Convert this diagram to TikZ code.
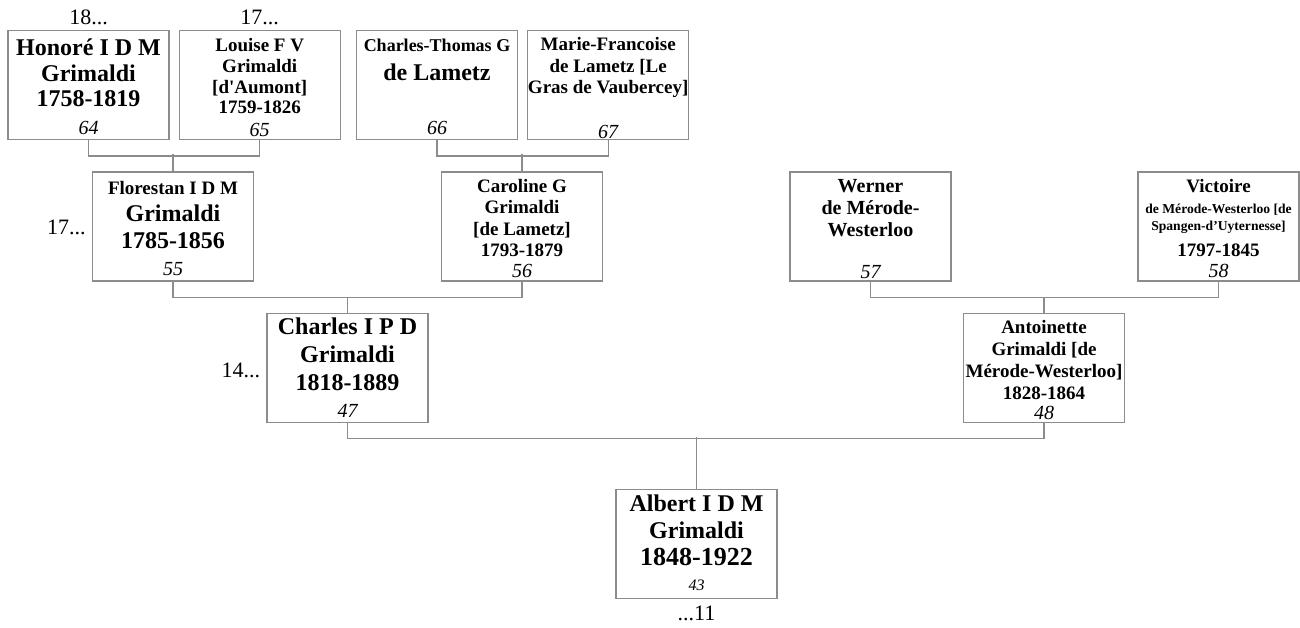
\documentclass[tikz,border=0pt]{standalone}
\usepackage{fontspec}
\setmainfont{Liberation Serif}
\usetikzlibrary{positioning}

\begin{document}
\begin{tikzpicture}
[x=1pt,y=-1pt,
person/.style={rectangle,draw=black!45,line width=1.2pt,minimum width=161pt,minimum height=109pt,inner sep=0pt},
who/.style n args={2}{anchor=base,align=center,inner sep=0pt,font=\bfseries\fontsize{#1}{#2}\selectfont},
num/.style={anchor=base,inner sep=0pt,font=\itshape\fontsize{20}{24}\selectfont},
gen/.style={anchor=base,inner sep=0pt,font=\fontsize{22}{26}\selectfont},
link/.style={draw=black!45,line width=1.2pt}]
\useasboundingbox (0,0) rectangle (1300,628);
% boxes
\node[person] (honore) at (88.5,85) {};
\node[person] (louise) [right=9pt of honore] {};
\node[person] (ctlametz) at (437,85) {};
\node[person] (mflametz) [right=9pt of ctlametz] {};
\node[person] (florestan) at (173,226.5) {};
\node[person] (caroline) at (522,226.5) {};
\node[person] (werner) at (870.5,226.5) {};
\node[person] (victoire) at (1218.5,226.5) {};
\node[person] (charles) at (347.5,368) {};
\node[person] (antoinette) at (1044,368) {};
\node[person] (albert) at (696.5,544) {};
% names (base = last line)
\node[who={24}{25.5}] (honore name) at ([yshift=-77pt]honore.north) {Honoré I D M\\Grimaldi\\1758-1819};
\node[who={19}{20.7}] (louise name) at ([yshift=-84pt]louise.north) {Louise F V\\Grimaldi\\{[d\textquotesingle Aumont]}\\1759-1826};
\node[who={18}{29}] (ctlametz name) at ([yshift=-51pt]ctlametz.north) {Charles-Thomas G\\{\fontsize{24}{29}\selectfont de Lametz}};
\node[who={19}{21.5}] (mflametz name) at ([yshift=-64pt]mflametz.north) {Marie-Francoise\\de Lametz [Le\\Gras de Vaubercey]};
\node[who={24}{27}] (florestan name) at ([yshift=-77pt]florestan.north) {{\fontsize{19}{27}\selectfont Florestan I D M}\\Grimaldi\\1785-1856};
\node[who={19}{21.3}] (caroline name) at ([yshift=-85pt]caroline.north) {Caroline G\\Grimaldi\\{[de Lametz]}\\1793-1879};
\node[who={20}{22}] (werner name) at ([yshift=-65pt]werner.north) {Werner\\de Mérode-\\Westerloo};
\node[who={13.6}{17}] (victoire name) at ([yshift=-85pt]victoire.north) {{\fontsize{19}{21}\selectfont Victoire}\\[4pt]de Mérode-Westerloo [de\\Spangen-d’Uyternesse]\\[9pt]{\fontsize{19}{21}\selectfont 1797-1845}};
\node[who={24}{28}] (charles name) at ([yshift=-78pt]charles.north) {Charles I P D\\Grimaldi\\1818-1889};
\node[who={19}{22}] (antoinette name) at ([yshift=-87pt]antoinette.north) {Antoinette\\Grimaldi [de\\Mérode-Westerloo]\\1828-1864};
\node[who={24}{27}] (albert name) at ([yshift=-77pt]albert.north) {Albert I D M\\Grimaldi\\{\fontsize{26}{27}\selectfont 1848-1922}};
% numbers
\node[num] (honore num) at ([yshift=6pt]honore.south) {64};
\node[num] (louise num) at ([yshift=4pt]louise.south) {65};
\node[num] (ctlametz num) at ([yshift=6pt]ctlametz.south) {66};
\node[num] (mflametz num) at ([yshift=2pt]mflametz.south) {67};
\node[num] (florestan num) at ([yshift=6pt]florestan.south) {55};
\node[num] (caroline num) at ([yshift=4pt]caroline.south) {56};
\node[num] (werner num) at ([yshift=3pt]werner.south) {57};
\node[num] (victoire num) at ([yshift=4pt]victoire.south) {58};
\node[num] (charles num) at ([yshift=6pt]charles.south) {47};
\node[num] (antoinette num) at ([yshift=4pt]antoinette.south) {48};
\node[num,font=\itshape\fontsize{16}{18}\selectfont] (albert num) at ([yshift=9pt]albert.south) {43};
% generation counts
\node[gen] (honore gen) at ([yshift=5pt]honore.north) {18...};
\node[gen] (louise gen) at ([yshift=5pt]louise.north) {17...};
\node[gen,anchor=base east] (florestan gen) at ([xshift=-6pt,yshift=-8.5pt]florestan.west) {17...};
\node[gen,anchor=base east] (charles gen) at ([xshift=-6pt,yshift=-9pt]charles.west) {14...};
\node[gen] (albert gen) at ([yshift=-21pt]albert.south) {...11};
% links
\draw[link] (honore.south) -- ++(0,16) -| (louise.south);
\draw[link] (florestan.north) -- ++(0,-17);
\draw[link] (ctlametz.south) -- ++(0,16) -| (mflametz.south);
\draw[link] (caroline.north) -- ++(0,-17);
\draw[link] (florestan.south) -- ++(0,16) -| (caroline.south);
\draw[link] (charles.north) -- ++(0,-16);
\draw[link] (werner.south) -- ++(0,16) -| (victoire.south);
\draw[link] (antoinette.north) -- ++(0,-16);
\draw[link] (charles.south) -- ++(0,15) -| (antoinette.south);
\draw[link] (albert.north) -- ++(0,-52);
\end{tikzpicture}
\end{document}
